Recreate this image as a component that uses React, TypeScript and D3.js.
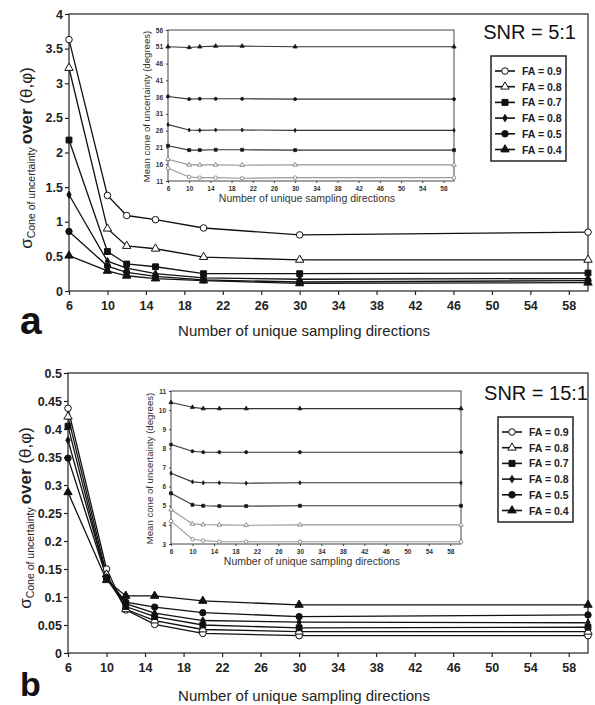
import React, { useRef, useEffect } from "react";
import * as d3 from "d3";

// sampling directions used in every series
const sampleDirs = [6, 10, 12, 15, 20, 30, 60];
const legendLabels = ["FA = 0.9", "FA = 0.8", "FA = 0.7", "FA = 0.8", "FA = 0.5", "FA = 0.4"];
const xTickValues = [6, 10, 14, 18, 22, 26, 30, 34, 38, 42, 46, 50, 54, 58];

// SNR 5:1, sigma of cone of uncertainty
const snr5Sigma = [
  [3.63, 1.38, 1.09, 1.03, 0.91, 0.81, 0.85],
  [3.22, 0.9, 0.65, 0.61, 0.49, 0.45, 0.45],
  [2.18, 0.57, 0.39, 0.35, 0.25, 0.25, 0.26],
  [1.39, 0.43, 0.33, 0.25, 0.19, 0.17, 0.18],
  [0.86, 0.36, 0.27, 0.21, 0.16, 0.13, 0.15],
  [0.51, 0.29, 0.22, 0.18, 0.15, 0.11, 0.12],
];
// SNR 5:1, mean cone (degrees)
const snr5Mean = [
  [14.8, 12.2, 12.0, 12.0, 11.8, 12.0, 12.0],
  [17.5, 15.8, 15.8, 15.8, 15.7, 15.8, 15.8],
  [21.5, 20.2, 20.2, 20.3, 20.3, 20.2, 20.2],
  [27.8, 26.2, 26.1, 26.2, 26.2, 26.1, 26.1],
  [36.2, 35.4, 35.5, 35.5, 35.5, 35.4, 35.4],
  [51.0, 50.8, 51.0, 51.2, 51.2, 51.0, 51.0],
];
// SNR 15:1, sigma
const snr15Sigma = [
  [0.437, 0.15, 0.077, 0.051, 0.035, 0.031, 0.031],
  [0.422, 0.14, 0.078, 0.058, 0.042, 0.038, 0.038],
  [0.405, 0.133, 0.083, 0.065, 0.05, 0.045, 0.046],
  [0.38, 0.135, 0.088, 0.071, 0.058, 0.055, 0.054],
  [0.348, 0.135, 0.091, 0.082, 0.072, 0.065, 0.068],
  [0.287, 0.13, 0.102, 0.102, 0.093, 0.086, 0.086],
];
// SNR 15:1, mean cone (degrees)
const snr15Mean = [
  [4.2, 3.25, 3.18, 3.12, 3.12, 3.12, 3.12],
  [4.8, 4.05, 4.02, 4.0, 3.98, 4.0, 4.0],
  [5.65, 5.05, 5.0, 4.98, 4.98, 5.0, 5.0],
  [6.7, 6.25, 6.2, 6.2, 6.18, 6.2, 6.2],
  [8.2, 7.85, 7.8, 7.8, 7.8, 7.8, 7.8],
  [10.4, 10.15, 10.08, 10.08, 10.08, 10.08, 10.08],
];

const FONT = "Liberation Sans, Arial, sans-serif";

const markers = [
  { type: d3.symbolCircle, fill: "white", size: 34, lsize: 34, isize: 10 },
  { type: d3.symbolTriangle, fill: "white", size: 30, lsize: 30, isize: 9 },
  { type: d3.symbolSquare, fill: "#111", size: 34, lsize: 36, isize: 9 },
  { type: d3.symbolDiamond, fill: "#111", size: 16, lsize: 16, isize: 5 },
  { type: d3.symbolCircle, fill: "#111", size: 32, lsize: 34, isize: 8 },
  { type: d3.symbolTriangle, fill: "#111", size: 30, lsize: 30, isize: 8 },
];

function drawPanel(svg, cfg) {
  const { box, yMax, yStep, sigma, mean, inset, snr, letter, xLabelY, yLabelCenter, legend } = cfg;

  const x = d3.scaleLinear().domain([6, 60]).range([box.left, box.right]);
  const y = d3.scaleLinear().domain([0, yMax]).range([box.bottom, box.top]);

  const g = svg.append("g");

  // axes
  const xa = g
    .append("g")
    .attr("transform", `translate(0,${box.bottom})`)
    .call(d3.axisBottom(x).tickValues(xTickValues).tickSize(4).tickSizeOuter(0).tickPadding(6));
  const ya = g
    .append("g")
    .attr("transform", `translate(${box.left},0)`)
    .call(
      d3
        .axisLeft(y)
        .tickValues(d3.range(0, yMax + yStep / 2, yStep))
        .tickFormat(d3.format("~g"))
        .tickSize(4)
        .tickSizeOuter(0)
        .tickPadding(2)
    );
  [xa, ya].forEach((a) => {
    a.select(".domain").remove();
    a.selectAll("line").attr("stroke", "#222").attr("stroke-width", 1.2);
    a.selectAll("text")
      .attr("font-family", FONT)
      .attr("font-weight", "bold")
      .attr("font-size", 12.5)
      .attr("fill", "#222");
  });

  g.append("rect")
    .attr("x", box.left)
    .attr("y", box.top)
    .attr("width", box.right - box.left)
    .attr("height", box.bottom - box.top)
    .attr("fill", "none")
    .attr("stroke", "#333")
    .attr("stroke-width", 1.3);

  // inset
  drawInset(g, inset, mean);

  // main series
  const line = d3
    .line()
    .x((d, i) => x(sampleDirs[i]))
    .y((d) => y(d));

  sigma.forEach((s) => {
    g.append("path")
      .attr("d", line(s))
      .attr("fill", "none")
      .attr("stroke", "#111")
      .attr("stroke-width", 1.3);
  });
  sigma.forEach((s, k) => {
    const m = markers[k];
    g.selectAll(null)
      .data(s)
      .join("path")
      .attr("transform", (d, i) => `translate(${x(sampleDirs[i])},${y(d)})`)
      .attr("d", d3.symbol().type(m.type).size(m.size))
      .attr("fill", m.fill)
      .attr("stroke", "#111")
      .attr("stroke-width", 1);
  });

  // SNR label
  g.append("text")
    .attr("x", snr.x)
    .attr("y", snr.y)
    .attr("text-anchor", "end")
    .attr("font-family", FONT)
    .attr("font-size", 20)
    .attr("fill", "#111")
    .text(snr.text);

  // legend
  const lg = g.append("g");
  lg.append("rect")
    .attr("x", legend.x)
    .attr("y", legend.y)
    .attr("width", legend.w)
    .attr("height", legend.h)
    .attr("fill", "white")
    .attr("stroke", "#222")
    .attr("stroke-width", 1.5);
  legendLabels.forEach((lab, k) => {
    const yy = legend.y + 15 + k * 15.7;
    const m = markers[k];
    lg.append("line")
      .attr("x1", legend.x + 4)
      .attr("x2", legend.x + 24)
      .attr("y1", yy)
      .attr("y2", yy)
      .attr("stroke", "#111")
      .attr("stroke-width", 1.6);
    lg.append("path")
      .attr("transform", `translate(${legend.x + 14},${yy})`)
      .attr("d", d3.symbol().type(m.type).size(m.lsize))
      .attr("fill", m.fill)
      .attr("stroke", "#111")
      .attr("stroke-width", 1);
    lg.append("text")
      .attr("x", legend.x + 31)
      .attr("y", yy + 4)
      .attr("font-family", FONT)
      .attr("font-weight", "bold")
      .attr("font-size", 10.5)
      .attr("fill", "#222")
      .text(lab);
  });

  // x label
  g.append("text")
    .attr("x", 304)
    .attr("y", xLabelY)
    .attr("text-anchor", "middle")
    .attr("font-family", FONT)
    .attr("font-size", 15)
    .attr("fill", "#222")
    .text("Number of unique sampling directions");

  // y label
  const yl = g
    .append("text")
    .attr("transform", `translate(${yLabelCenter.x},${yLabelCenter.y}) rotate(-90)`)
    .attr("text-anchor", "middle")
    .attr("font-family", FONT)
    .attr("fill", "#222");
  yl.append("tspan").attr("font-size", 17).text("σ");
  yl.append("tspan").attr("font-size", 10.5).attr("dy", 3).text("Cone of uncertainty ");
  yl.append("tspan").attr("font-size", 17).attr("font-weight", "bold").attr("dy", -3).text("over ");
  yl.append("tspan").attr("font-size", 17).text("(θ,φ)");

  // panel letter
  g.append("text")
    .attr("x", letter.x)
    .attr("y", letter.y)
    .attr("font-family", FONT)
    .attr("font-weight", "bold")
    .attr("font-size", letter.size)
    .attr("fill", "#111")
    .text(letter.text);
}

function drawInset(g, inset, mean) {
  const { left, right, top, bottom, yMin, yMax, yStep, labelY } = inset;
  const x = d3.scaleLinear().domain([6, 60]).range([left, right]);
  const y = d3.scaleLinear().domain([yMin, yMax]).range([bottom, top]);

  g.append("rect")
    .attr("x", left)
    .attr("y", top)
    .attr("width", right - left)
    .attr("height", bottom - top)
    .attr("fill", "white")
    .attr("stroke", "#444")
    .attr("stroke-width", 1);

  const xa = g
    .append("g")
    .attr("transform", `translate(0,${bottom})`)
    .call(d3.axisBottom(x).tickValues(xTickValues).tickSize(2).tickSizeOuter(0).tickPadding(3));
  const ya = g
    .append("g")
    .attr("transform", `translate(${left},0)`)
    .call(
      d3
        .axisLeft(y)
        .tickValues(d3.range(yMin, yMax + yStep / 2, yStep))
        .tickSize(2)
        .tickSizeOuter(0)
        .tickPadding(3)
    );
  [xa, ya].forEach((a) => {
    a.select(".domain").remove();
    a.selectAll("line").attr("stroke", "#444");
    a.selectAll("text")
      .attr("font-family", FONT)
      .attr("font-weight", "bold")
      .attr("font-size", 6.5)
      .attr("fill", "#333");
  });

  const line = d3
    .line()
    .x((d, i) => x(sampleDirs[i]))
    .y((d) => y(d));

  mean.forEach((s, k) => {
    const grey = k < 2;
    g.append("path")
      .attr("d", line(s))
      .attr("fill", "none")
      .attr("stroke", grey ? "#999" : "#333")
      .attr("stroke-width", 1.1);
    const m = markers[k];
    g.selectAll(null)
      .data(s)
      .join("path")
      .attr("transform", (d, i) => `translate(${x(sampleDirs[i])},${y(d)})`)
      .attr("d", d3.symbol().type(m.type).size(m.isize))
      .attr("fill", m.fill)
      .attr("stroke", grey ? "#777" : "#222")
      .attr("stroke-width", 0.8);
  });

  g.append("text")
    .attr("x", (left + right) / 2 - 4)
    .attr("y", labelY)
    .attr("text-anchor", "middle")
    .attr("font-family", FONT)
    .attr("font-size", 10.5)
    .attr("fill", "#333")
    .text("Number of unique sampling directions");

  g.append("text")
    .attr("transform", `translate(${left - 18},${(top + bottom) / 2 + 1}) rotate(-90)`)
    .attr("text-anchor", "middle")
    .attr("font-family", FONT)
    .attr("font-size", 9.6)
    .attr("fill", "#333")
    .text("Mean cone of uncertainty (degrees)");
}

const App = () => {
  const ref = useRef(null);

  useEffect(() => {
    const svg = d3.select(ref.current);
    svg.selectAll("*").remove();

    drawPanel(svg, {
      box: { left: 69, right: 588, top: 14, bottom: 291 },
      yMax: 4,
      yStep: 0.5,
      sigma: snr5Sigma,
      mean: snr5Mean,
      inset: { left: 168, right: 454, top: 30, bottom: 181, yMin: 11, yMax: 56, yStep: 5, labelY: 202 },
      snr: { x: 576, y: 39, text: "SNR = 5:1" },
      legend: { x: 491, y: 56, w: 75, h: 105 },
      letter: { text: "a", x: 20, y: 334, size: 39 },
      xLabelY: 336,
      yLabelCenter: { x: 32, y: 158 },
    });

    drawPanel(svg, {
      box: { left: 68, right: 588, top: 373, bottom: 653 },
      yMax: 0.5,
      yStep: 0.05,
      sigma: snr15Sigma,
      mean: snr15Mean,
      inset: { left: 171, right: 461, top: 391, bottom: 544, yMin: 3, yMax: 11, yStep: 1, labelY: 565 },
      snr: { x: 588, y: 400, text: "SNR = 15:1" },
      legend: { x: 498, y: 417, w: 75, h: 105 },
      letter: { text: "b", x: 20, y: 696, size: 34 },
      xLabelY: 701,
      yLabelCenter: { x: 31, y: 518 },
    });
  }, []);

  return (
    <svg
      ref={ref}
      width={595}
      height={705}
      style={{ position: "absolute", left: 0, top: 0, background: "white" }}
    />
  );
};

export default App;
